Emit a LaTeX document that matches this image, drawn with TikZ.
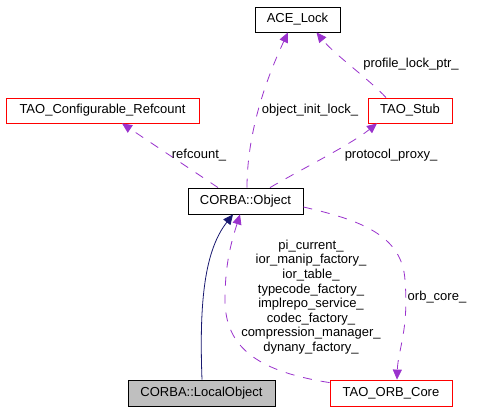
\documentclass[tikz,border=0pt]{standalone}
\usepackage{fontspec}
\setmainfont{Liberation Sans}
\usetikzlibrary{arrows.meta}
\definecolor{edgepurple}{RGB}{154,50,205}
\definecolor{edgenavy}{RGB}{25,25,112}
\definecolor{boxgray}{RGB}{191,191,191}
\begin{document}
\begin{tikzpicture}[x=1pt,y=-1pt,
  every node/.style={font=\fontsize{13}{14.6}\selectfont, inner sep=0pt},
  cls/.style={draw=black, line width=0.8pt, minimum height=25pt, anchor=center},
  redcls/.style={cls, draw=red},
  usage/.style={draw=edgepurple, line width=0.8pt, dash pattern=on 9pt off 9pt, -{Triangle[length=10pt,width=9pt]}, edgepurple},
  inherit/.style={draw=edgenavy, line width=0.8pt, -{Triangle[length=10pt,width=9pt]}, edgenavy},
  lbl/.style={align=center}]
\useasboundingbox (0,0) rectangle (487,411);
\fill[white] (0,0) rectangle (487,411);

\node[cls, minimum width=85pt] (ace) at (297.5,19.5) {ACE\_Lock};
\node[redcls, minimum width=193pt] (tcr) at (102.5,110.5) {TAO\_Configurable\_Refcount};
\node[redcls, minimum width=84pt] (stub) at (410,110.5) {TAO\_Stub};
\node[cls, minimum width=115pt, minimum height=26pt] (obj) at (245.5,201) {CORBA::Object};
\node[cls, fill=boxgray, minimum width=147pt, minimum height=26pt] (local) at (201.5,393) {CORBA::LocalObject};
\node[redcls, minimum width=122pt, minimum height=26pt] (orb) at (391,393) {TAO\_ORB\_Core};

% refcount_
\draw[usage] ([xshift=-27.5pt]obj.north) -- ([xshift=19.5pt]tcr.south);
\node[lbl] (lrc) at (199,155) {refcount\_};

% object_init_lock_
\draw[usage] ([xshift=1.5pt]obj.north) .. controls (247,130) and (268,75) .. ([xshift=-9.5pt]ace.south);
\node[lbl] (loil) at (310,110) {object\_init\_lock\_};

% protocol_proxy_
\draw[usage] ([xshift=24.5pt]obj.north) .. controls (300,170) and (350,145) .. ([xshift=-33pt]stub.south);
\node[lbl] (lpp) at (391,155) {protocol\_proxy\_};

% profile_lock_ptr_
\draw[usage] ([xshift=-24pt]stub.north) .. controls (370,80) and (335,55) .. ([xshift=19pt]ace.south);
\node[lbl] (lplp) at (411,64) {profile\_lock\_ptr\_};

% orb_core_
\draw[usage] ([yshift=-6pt]obj.east) .. controls (360,220) and (402,235) .. (405,280) .. controls (409,330) and (398,350) .. ([xshift=6pt]orb.north);
\node[lbl] (loc) at (437,297) {orb\_core\_};

% many members
\draw[usage] ([yshift=-3pt]orb.north west) .. controls (262,372) and (225,350) .. (225,300) .. controls (225,262) and (232,240) .. ([xshift=-5.5pt]obj.south);
\node[lbl] (lmany) at (311,297) {pi\_current\_\\ior\_manip\_factory\_\\ior\_table\_\\typecode\_factory\_\\implrepo\_service\_\\codec\_factory\_\\compression\_manager\_\\dynany\_factory\_};

% inheritance
\draw[inherit] ([xshift=0.5pt]local.north) .. controls (199,300) and (205,250) .. ([xshift=-12.5pt]obj.south);
\end{tikzpicture}
\end{document}
